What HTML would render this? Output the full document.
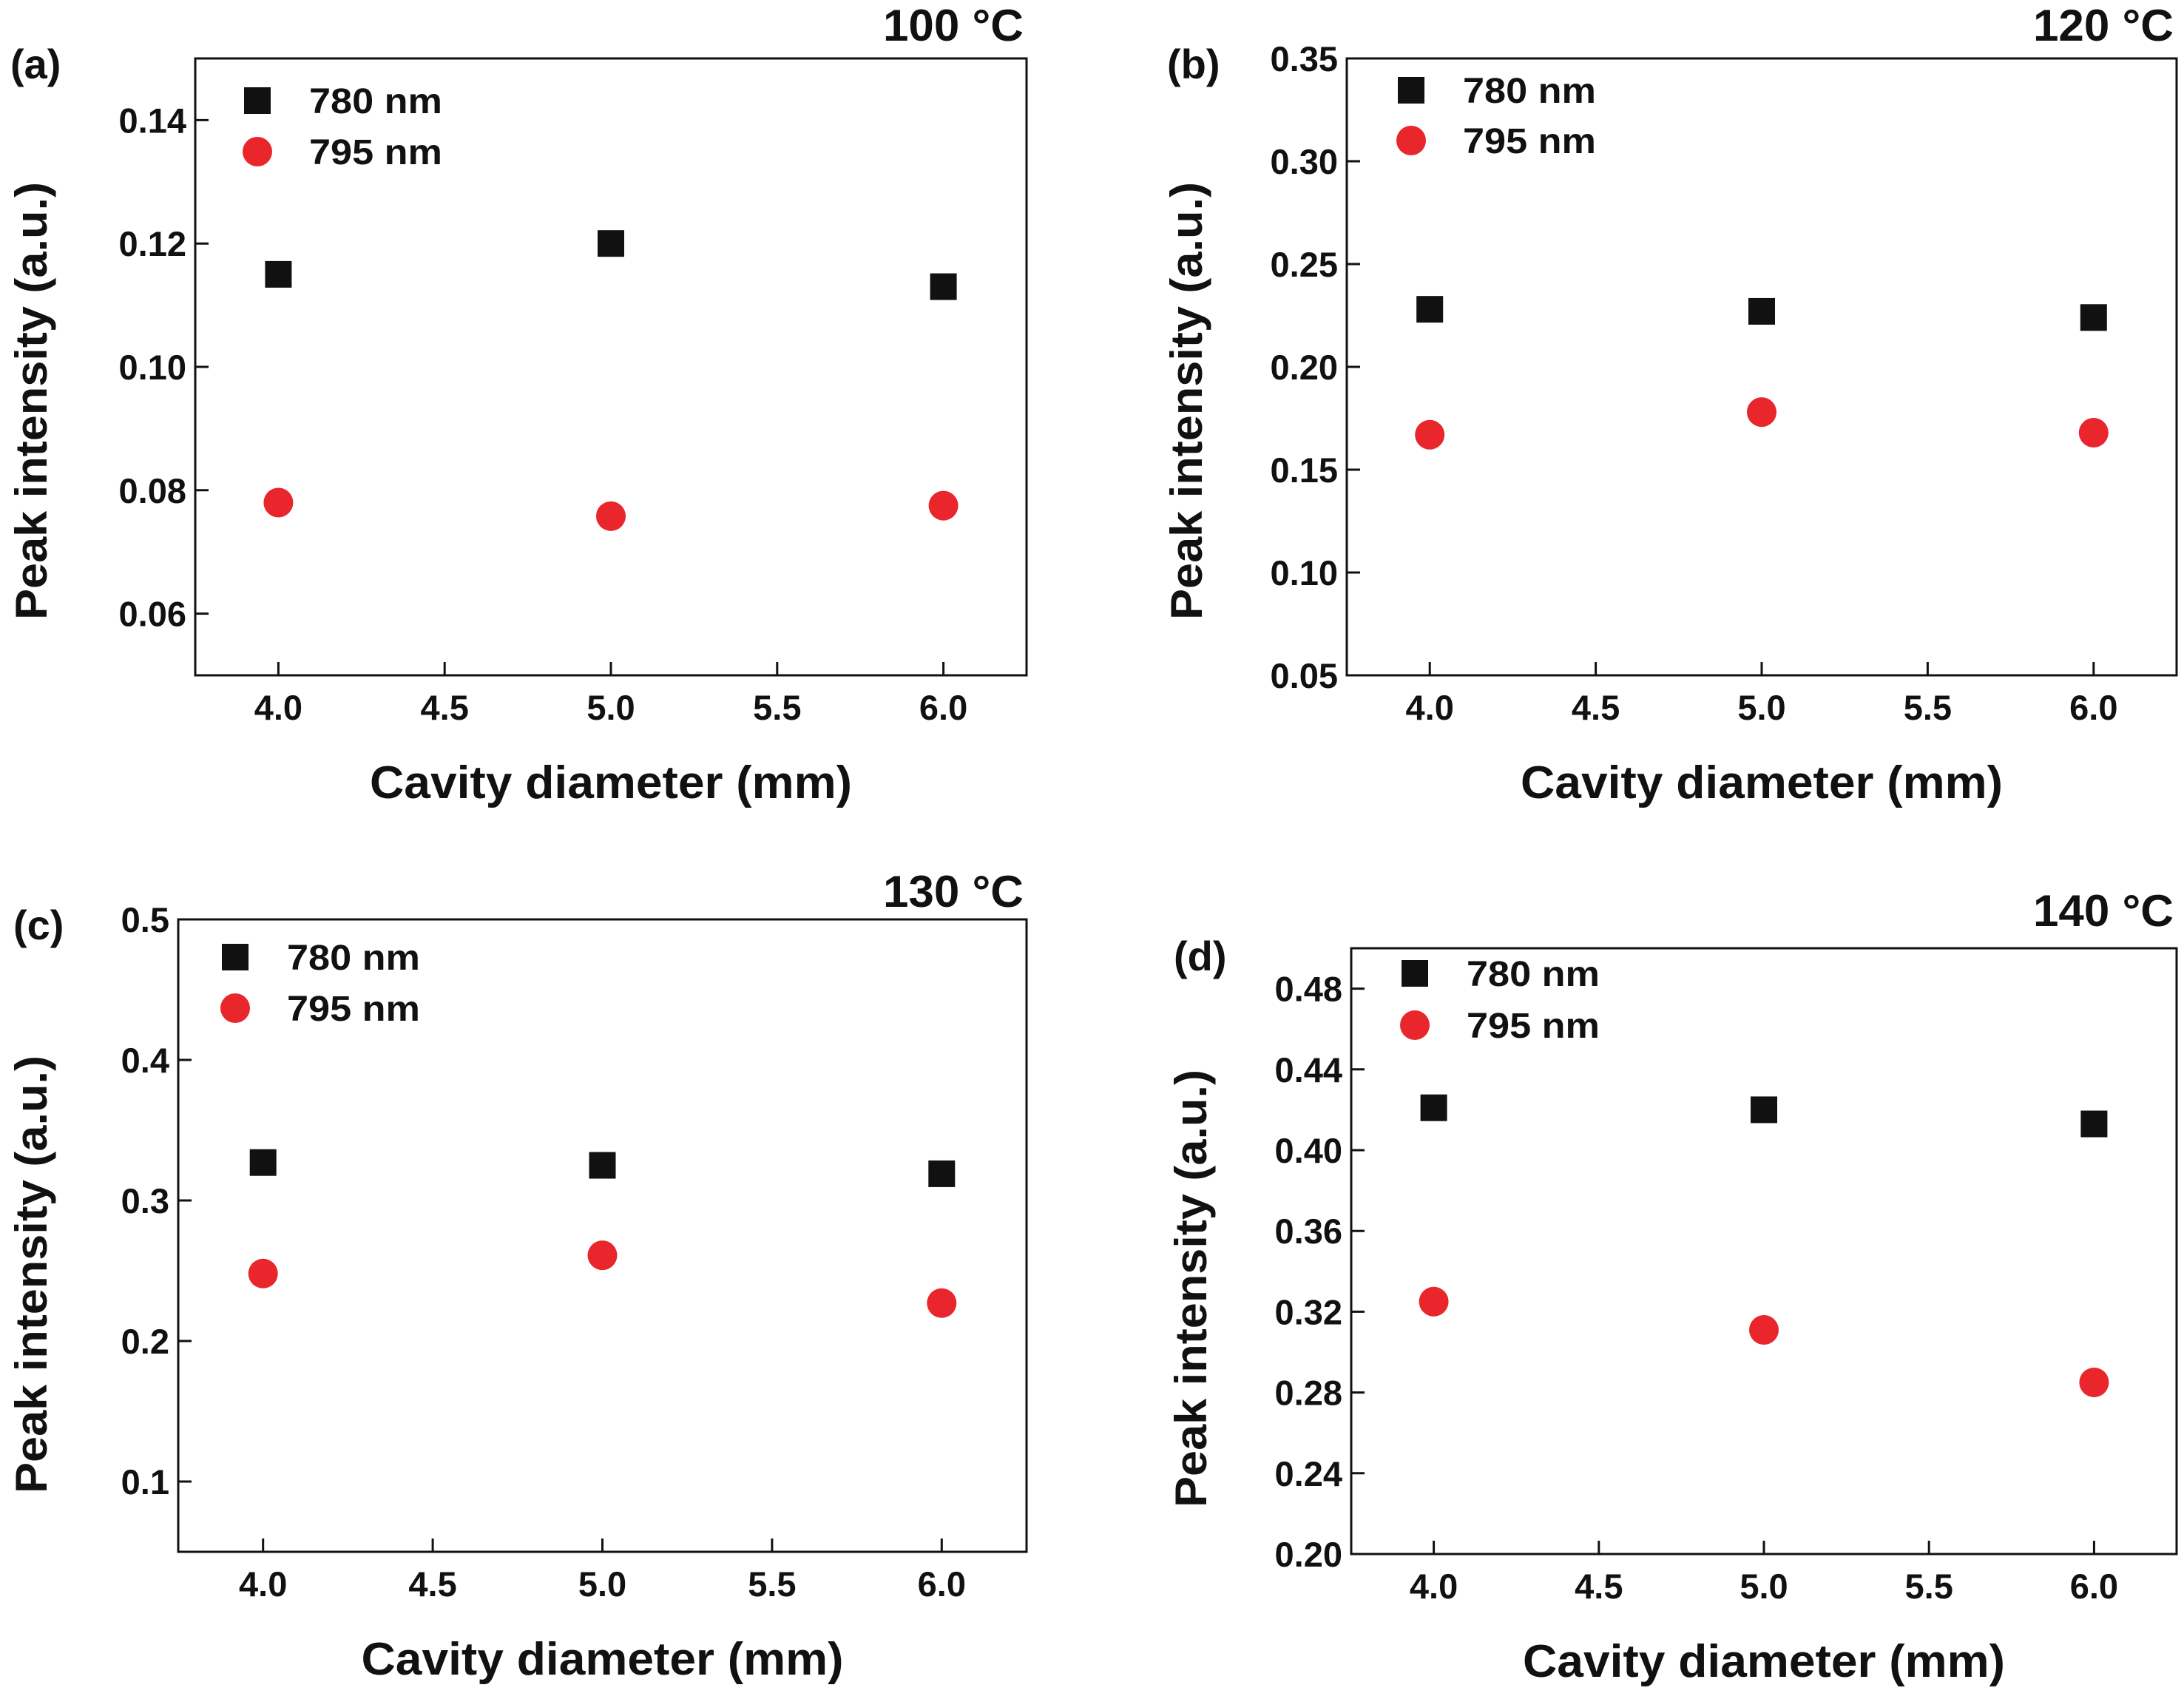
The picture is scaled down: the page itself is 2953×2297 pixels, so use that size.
<!DOCTYPE html>
<html><head><meta charset="utf-8"><style>
html,body{margin:0;padding:0;background:#fff;}
svg{display:block;font-family:"Liberation Sans",sans-serif;font-weight:bold;}
</style></head><body>
<svg id="fig" width="2953" height="2297" viewBox="0 0 2953 2297" xmlns="http://www.w3.org/2000/svg"></svg>
<script>
const xCategories = [4.0, 5.0, 6.0];
const xTickLabels = ["4.0","4.5","5.0","5.5","6.0"];
const xTickValues = [4.0,4.5,5.0,5.5,6.0];
const seriesNames = ["780 nm","795 nm"];

const a780 = [0.115, 0.120, 0.113];
const a795 = [0.078, 0.0758, 0.0775];
const aTicks = [0.06, 0.08, 0.10, 0.12, 0.14];
const aTickLabels = ["0.06","0.08","0.10","0.12","0.14"];

const b780 = [0.228, 0.227, 0.224];
const b795 = [0.167, 0.178, 0.168];
const bTicks = [0.05,0.10,0.15,0.20,0.25,0.30,0.35];
const bTickLabels = ["0.05","0.10","0.15","0.20","0.25","0.30","0.35"];

const c780 = [0.327, 0.325, 0.319];
const c795 = [0.248, 0.261, 0.227];
const cTicks = [0.1,0.2,0.3,0.4,0.5];
const cTickLabels = ["0.1","0.2","0.3","0.4","0.5"];

const d780 = [0.421, 0.420, 0.413];
const d795 = [0.325, 0.311, 0.285];
const dTicks = [0.20,0.24,0.28,0.32,0.36,0.40,0.44,0.48];
const dTickLabels = ["0.20","0.24","0.28","0.32","0.36","0.40","0.44","0.48"];

const NS = "http://www.w3.org/2000/svg";
const svg = document.getElementById('fig');
function mk(tag, attrs, parent){
  const e = document.createElementNS(NS, tag);
  for (const k in attrs) e.setAttribute(k, attrs[k]);
  (parent||svg).appendChild(e);
  return e;
}
function txt(s, attrs, parent){ const t = mk('text', attrs, parent); t.textContent = s; return t; }

const panels = [
  {id:'a', L:264,T:79,R:1388,B:913, ymin:0.05,ymax:0.15, s1:a780,s2:a795, ticks:aTicks, tl:aTickLabels,
   temp:"100 °C", tempY:55, letterX:14, letterY:106, yTitleX:42, yTitleC:542, legX:348,legY1:136,legY2:205},
  {id:'b', L:1821,T:79,R:2943,B:913, ymin:0.05,ymax:0.35, s1:b780,s2:b795, ticks:bTicks, tl:bTickLabels,
   temp:"120 °C", tempY:55, letterX:1578, letterY:106, yTitleX:1604, yTitleC:542, legX:1908,legY1:122,legY2:190},
  {id:'c', L:241,T:1243,R:1388,B:2098, ymin:0.05,ymax:0.5, s1:c780,s2:c795, ticks:cTicks, tl:cTickLabels,
   temp:"130 °C", tempY:1226, letterX:18, letterY:1270, yTitleX:42, yTitleC:1723, legX:318,legY1:1294,legY2:1363},
  {id:'d', L:1827,T:1282,R:2943,B:2101, ymin:0.20,ymax:0.50, s1:d780,s2:d795, ticks:dTicks, tl:dTickLabels,
   temp:"140 °C", tempY:1252, letterX:1587, letterY:1312, yTitleX:1610, yTitleC:1742, legX:1913,legY1:1316,legY2:1386}
];

panels.forEach(p => {
  const g = mk('g', {});
  
  
  const xs = v => p.L + (v - 3.75) / 2.5 * (p.R - p.L);
  const ys = v => p.B - (v - p.ymin) / (p.ymax - p.ymin) * (p.B - p.T);

  const fr = mk('rect', {x:p.L, y:p.T, width:p.R-p.L, height:p.B-p.T, fill:'none', stroke:'#111', 'stroke-width':3}, g);
  
  

  xTickValues.forEach((v,i) => {
    const x = xs(v);
    mk('line', {x1:x, x2:x, y1:p.B, y2:p.B-18, stroke:'#111','stroke-width':3}, g);
    const t = txt(xTickLabels[i], {x:x, y:p.B+60, 'text-anchor':'middle','font-size':47, fill:'#111'}, g);
    
    
  });
  p.ticks.forEach((v,i) => {
    const y = ys(v);
    mk('line', {x1:p.L, x2:p.L+18, y1:y, y2:y, stroke:'#111','stroke-width':3}, g);
    const t = txt(p.tl[i], {x:p.L-12, y:y+17, 'text-anchor':'end','font-size':47, fill:'#111'}, g);
    
    
  });

  xCategories.forEach((v,i) => {
    const sq = mk('rect', {x:xs(v)-18, y:ys(p.s1[i])-18, width:36, height:36, fill:'#111'}, g);
    
    
    const c = mk('ellipse', {cx:xs(v), cy:ys(p.s2[i]), rx:20, ry:20, fill:'#e8262b'}, g);
    
    
  });

  const l1 = mk('rect', {x:p.legX-18, y:p.legY1-18, width:36, height:36, fill:'#111'}, g);
  
  
  const lt1 = txt(seriesNames[0], {x:p.legX+70, y:p.legY1+17, 'font-size':48, fill:'#111', textLength:180, lengthAdjust:'spacingAndGlyphs'}, g);
  
  
  const l2 = mk('ellipse', {cx:p.legX, cy:p.legY2, rx:20, ry:20, fill:'#e8262b'}, g);
  
  
  const lt2 = txt(seriesNames[1], {x:p.legX+70, y:p.legY2+17, 'font-size':48, fill:'#111', textLength:180, lengthAdjust:'spacingAndGlyphs'}, g);
  
  

  const xt = txt("Cavity diameter (mm)", {x:(p.L+p.R)/2, y:p.B+166, 'text-anchor':'middle','font-size':62, fill:'#111', textLength:652, lengthAdjust:'spacingAndGlyphs'}, g);
  
  
  const yt = txt("Peak intensity (a.u.)", {x:0, y:0, 'text-anchor':'middle','font-size':60, fill:'#111', textLength:592, lengthAdjust:'spacingAndGlyphs',
     transform:`translate(${p.yTitleX+21},${p.yTitleC}) rotate(-90)`}, g);
  
  

  const tt = txt(p.temp, {x:p.R-4, y:p.tempY, 'text-anchor':'end','font-size':60, fill:'#111', textLength:190, lengthAdjust:'spacingAndGlyphs'}, g);
  
  
  const lt = txt('(' + p.id + ')', {x:p.letterX, y:p.letterY, 'font-size':56, fill:'#111'}, g);
  
  
});
</script>
</body></html>
